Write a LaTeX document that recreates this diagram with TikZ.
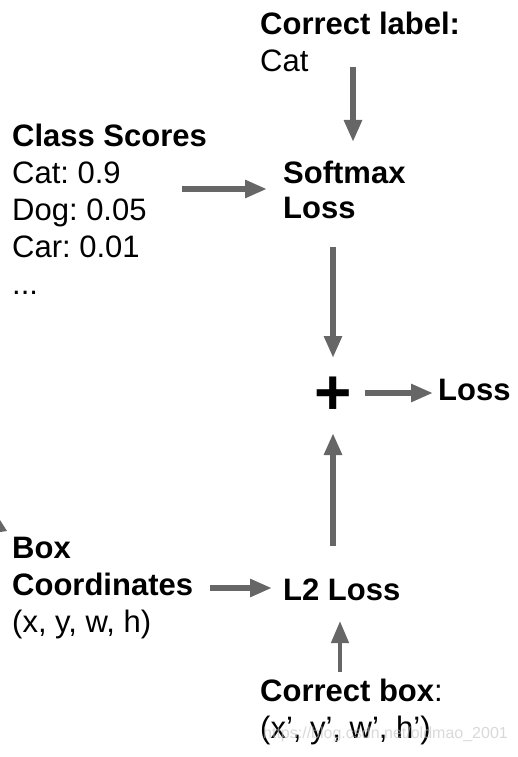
\documentclass[tikz,border=0pt]{standalone}
\usepackage{fontspec}
\setmainfont{Liberation Sans}
\usetikzlibrary{arrows.meta}
\definecolor{arrgray}{HTML}{666666}
\frenchspacing
\begin{document}
\begin{tikzpicture}[x=1pt,y=-1pt,
  txt/.style={anchor=base west,inner sep=0pt,align=left,font=\fontsize{31}{37}\selectfont\frenchspacing},
  arr/.style={draw=arrgray,line width=6pt,-{Triangle[length=22pt,width=17pt]}}]
\useasboundingbox (0,0) rectangle (517,757);
% text blocks (anchored at the baseline of their last line)
\node[txt] (label) at (260,72) {\textbf{Correct label:}\\Cat};
\node[txt] (scores) at (12,294) {\textbf{Class Scores}\\Cat: 0.9\\Dog: 0.05\\Car: 0.01\\...};
\node[txt] (softmax) at (283,218) {\textbf{Softmax}\\[-2pt]\textbf{Loss}};
\node[anchor=center,inner sep=0pt,font=\fontsize{64}{70}\selectfont\bfseries] (plus) at (333,396) {+};
\node[txt,font=\fontsize{31}{37}\selectfont\bfseries] (loss) at (438,400) {Loss};
\node[txt] (box) at (12,632) {\textbf{Box}\\\textbf{Coordinates}\\(x, y, w, h)};
\node[txt,font=\fontsize{31}{37}\selectfont\bfseries] (l2) at (283,600) {L2 Loss};
\node[txt] (cbox) at (260,738) {\textbf{Correct box}:\\(x’, y’, w’, h’)};
% arrow endpoints
\coordinate (a1s) at (353,67);  \coordinate (a1e) at (353,142);
\coordinate (a2s) at (182,189); \coordinate (a2e) at (267,189);
\coordinate (a3s) at (333,247); \coordinate (a3e) at (333,358);
\coordinate (a4s) at (365,393); \coordinate (a4e) at (433,393);
\coordinate (a5s) at (333,546); \coordinate (a5e) at (333,433);
\coordinate (a6s) at (210,588); \coordinate (a6e) at (272,588);
\coordinate (a7s) at (340,672); \coordinate (a7e) at (340,621);
\draw[arr] (a1s) -- (a1e);
\draw[arr] (a2s) -- (a2e);
\draw[arr] (a3s) -- (a3e);
\draw[arr] (a4s) -- (a4e);
\draw[arr] (a5s) -- (a5e);
\draw[arr] (a6s) -- (a6e);
\draw[arr,line width=4.5pt] (a7s) -- (a7e);
% partial arrow head at left edge
\fill[arrgray] (0,520) -- (7,531) -- (0,532) -- cycle;
% watermark
\node[anchor=base west,inner sep=0pt,font=\fontsize{16}{18}\selectfont,text=gray!50,opacity=0.6] (wm) at (263,738) {https://blog.csdn.net/oldmao\_2001};
\end{tikzpicture}
\end{document}
